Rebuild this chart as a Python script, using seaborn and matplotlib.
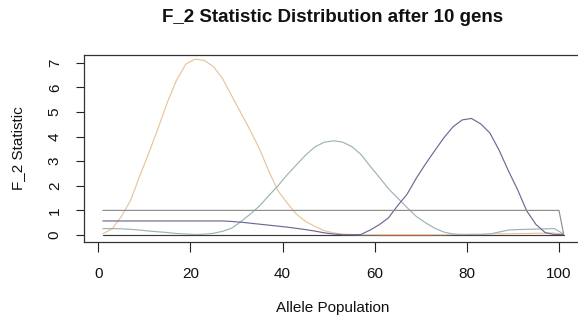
import matplotlib
matplotlib.use("Agg")
import matplotlib.pyplot as plt
import pandas as pd
import seaborn as sns

# ---- data ----
x_grid = [1, 3, 5, 7, 9, 11, 13, 15, 17, 19, 21, 23, 25, 27, 29, 31, 33, 35, 37, 39,
          41, 43, 45, 47, 49, 51, 53, 55, 57, 59, 61, 63, 65, 67, 69, 71, 73, 75, 77, 79,
          81, 83, 85, 87, 89, 91, 93, 95, 97, 99, 101]

tan_vals = [0.05, 0.25, 0.75, 1.4, 2.4, 3.35, 4.35, 5.4, 6.3, 6.95,
            7.15, 7.1, 6.85, 6.35, 5.65, 4.95, 4.25, 3.5, 2.6, 1.8,
            1.3, 0.85, 0.55, 0.35, 0.18, 0.09, 0.04, 0.02, 0.01, 0.01,
            0.01, 0.01, 0.01, 0.01, 0.01, 0.01, 0.01, 0.01, 0.02, 0.02,
            0.03, 0.03, 0.04, 0.05, 0.05, 0.06, 0.06, 0.07, 0.07, 0.08, 0.02]

teal_vals = [0.26, 0.26, 0.25, 0.23, 0.2, 0.16, 0.13, 0.1, 0.06, 0.04,
             0.02, 0.03, 0.07, 0.15, 0.28, 0.55, 0.85, 1.18, 1.6, 2.0,
             2.45, 2.85, 3.25, 3.58, 3.77, 3.83, 3.78, 3.6, 3.28, 2.8,
             2.35, 1.88, 1.5, 1.12, 0.76, 0.5, 0.28, 0.12, 0.04, 0.02,
             0.02, 0.02, 0.04, 0.12, 0.2, 0.22, 0.23, 0.24, 0.25, 0.26, 0.04]

purple_vals = [0.57, 0.57, 0.57, 0.57, 0.57, 0.57, 0.57, 0.57, 0.57, 0.57,
               0.57, 0.57, 0.57, 0.57, 0.55, 0.52, 0.48, 0.44, 0.4, 0.36,
               0.32, 0.27, 0.22, 0.16, 0.09, 0.04, 0.01, 0.01, 0.02, 0.2,
               0.42, 0.7, 1.2, 1.65, 2.3, 2.88, 3.42, 3.95, 4.4, 4.68,
               4.74, 4.52, 4.15, 3.45, 2.62, 1.85, 0.98, 0.43, 0.1, 0.02, 0.02]

gray_x = [1, 100, 101]
gray_vals = [1.0, 1.0, 0.05]

dark_x = [1, 101]
dark_vals = [0.0, 0.0]

brown_x = [61, 72]
brown_vals = [0.0, 0.0]

x_ticks = [0, 20, 40, 60, 80, 100]
y_ticks = [0, 1, 2, 3, 4, 5, 6, 7]

title = "F_2 Statistic Distribution after 10 gens"
x_label = "Allele Population"
y_label = "F_2 Statistic"

# ---- build long-form table ----
frames = []
for name, xs, ys in [("dark", dark_x, dark_vals),
                     ("tan", x_grid, tan_vals),
                     ("teal", x_grid, teal_vals),
                     ("purple", x_grid, purple_vals),
                     ("gray", gray_x, gray_vals),
                     ("brown", brown_x, brown_vals)]:
    frames.append(pd.DataFrame({"x": xs, "y": ys, "series": name}))
df = pd.concat(frames, ignore_index=True)

palette = {"dark": "#3a3a3a", "tan": "#e9c49c", "teal": "#9cb3b4",
           "purple": "#6e6894", "gray": "#8e8e8e", "brown": "#a86a4c"}
order = ["dark", "tan", "teal", "purple", "gray", "brown"]

sns.set_theme(style="ticks")
plt.rcParams["font.family"] = ["Liberation Sans", "DejaVu Sans"]

W, H = 578, 323
fig = plt.figure(figsize=(W / 100, H / 100), dpi=100)
left, right, top, bottom = 84, 582, 55, 242
ax = fig.add_axes([left / W, 1 - bottom / H, (right - left) / W, (bottom - top) / H])

sns.lineplot(data=df, x="x", y="y", hue="series", hue_order=order, palette=palette,
             estimator=None, sort=False, legend=False, linewidth=0.85, ax=ax)

ax.set_xlim(-3.1, 105)
ax.set_ylim(-0.285, 7.32)
ax.set_xticks(x_ticks)
ax.set_yticks(y_ticks)
ax.set_xticklabels([str(v) for v in x_ticks], fontsize=11)
ax.set_yticklabels([str(v) for v in y_ticks], fontsize=11, rotation=90, va="center")
ax.tick_params(axis="x", length=7, width=0.8, pad=11, colors="#222222", labelcolor="#111111")
ax.tick_params(axis="y", length=6, width=0.8, pad=10, colors="#222222", labelcolor="#111111")
for s in ["left", "top", "bottom"]:
    ax.spines[s].set_color("#333333")
    ax.spines[s].set_linewidth(0.9)
ax.spines["right"].set_visible(False)
ax.set_xlabel("")
ax.set_ylabel("")

fig.text(333 / W, 1 - 17 / H, title, ha="center", va="center",
         fontsize=13.5, fontweight="bold", color="#111111")
fig.text(333 / W, 1 - 308 / H, x_label, ha="center", va="center",
         fontsize=11, color="#111111")
fig.text(18 / W, 1 - 148 / H, y_label, ha="center", va="center",
         fontsize=11, rotation=90, color="#111111")

fig.savefig("out.png", dpi=100, facecolor="white")
